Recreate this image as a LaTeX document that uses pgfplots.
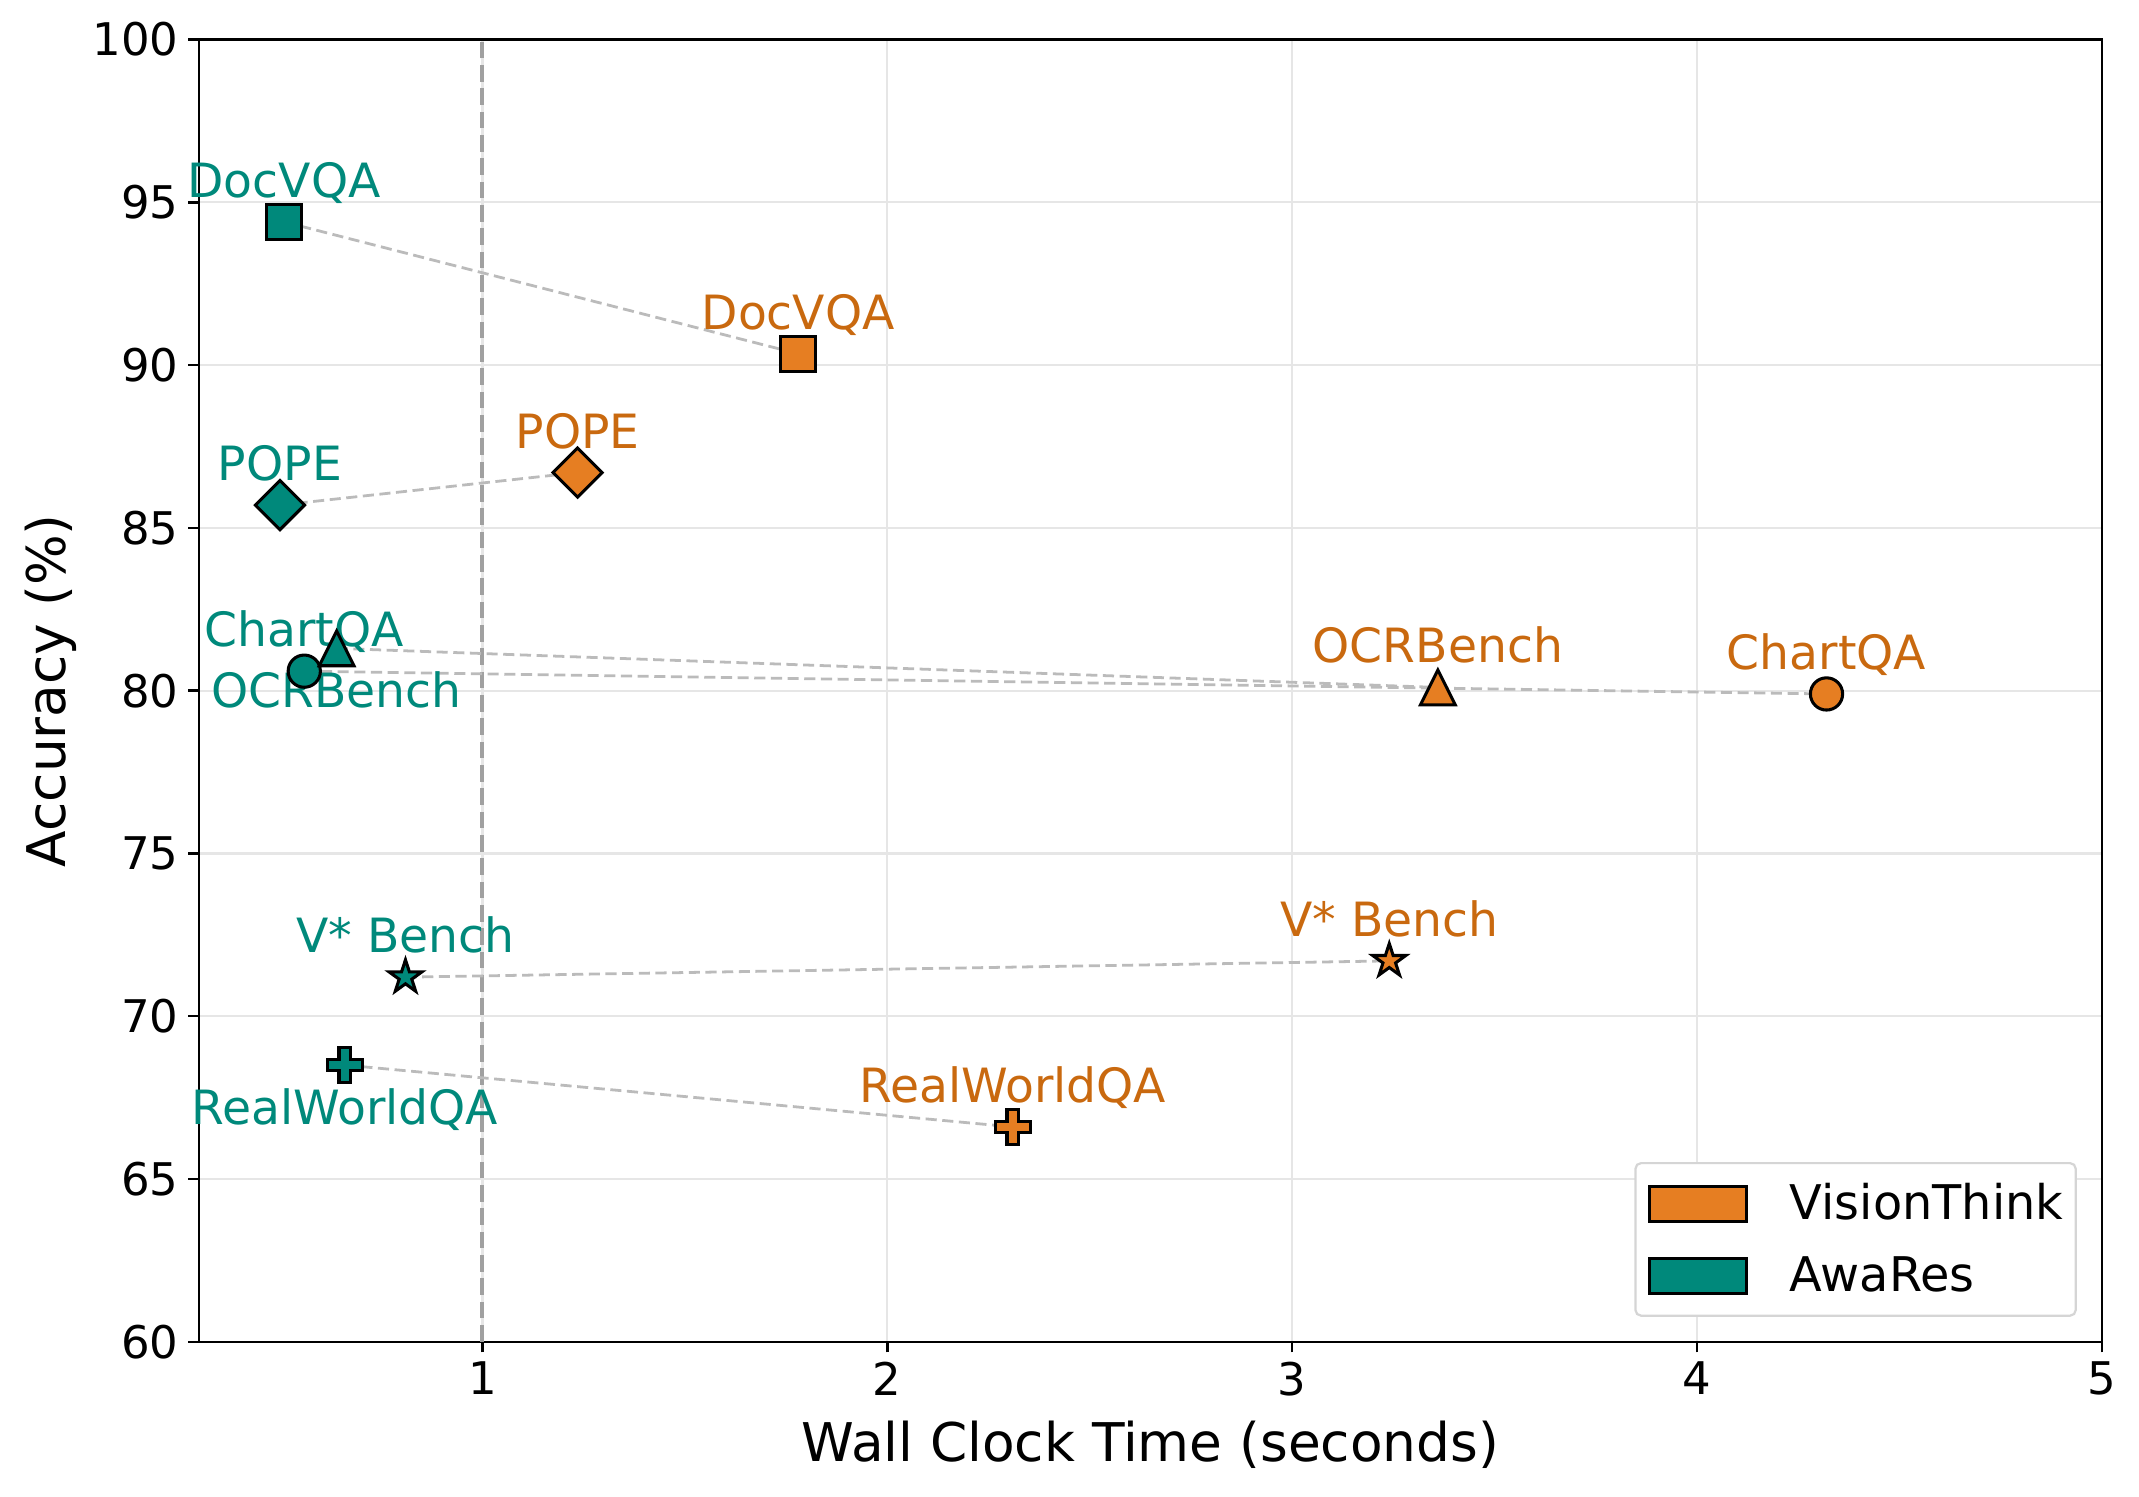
\documentclass[border=0pt]{standalone}
\usepackage{fontspec}
\setmainfont{DejaVu Sans}
\usepackage{pgfplots}
\pgfplotsset{compat=1.18}

\definecolor{vtfill}{HTML}{E67E22}
\definecolor{vttext}{HTML}{C9690F}
\definecolor{arfill}{HTML}{00897B}
\definecolor{linkgray}{HTML}{BBBBBB}
\definecolor{refgray}{HTML}{A0A0A0}
\definecolor{gridgray}{HTML}{E6E6E6}
\definecolor{legendgray}{HTML}{D5D5D5}

% matplotlib-like filled marks: triangle '^', star '*', plus 'P'
\pgfdeclareplotmark{mtri}{%
  \pgfpathmoveto{\pgfpoint{0pt}{\pgfplotmarksize}}%
  \pgfpathlineto{\pgfpoint{-\pgfplotmarksize}{-\pgfplotmarksize}}%
  \pgfpathlineto{\pgfpoint{\pgfplotmarksize}{-\pgfplotmarksize}}%
  \pgfpathclose\pgfusepathqfillstroke}
\pgfdeclareplotmark{mstar}{%
  \pgfpathmoveto{\pgfpointpolar{90}{\pgfplotmarksize}}%
  \pgfpathlineto{\pgfpointpolar{126}{0.382\pgfplotmarksize}}%
  \pgfpathlineto{\pgfpointpolar{162}{\pgfplotmarksize}}%
  \pgfpathlineto{\pgfpointpolar{198}{0.382\pgfplotmarksize}}%
  \pgfpathlineto{\pgfpointpolar{234}{\pgfplotmarksize}}%
  \pgfpathlineto{\pgfpointpolar{270}{0.382\pgfplotmarksize}}%
  \pgfpathlineto{\pgfpointpolar{306}{\pgfplotmarksize}}%
  \pgfpathlineto{\pgfpointpolar{342}{0.382\pgfplotmarksize}}%
  \pgfpathlineto{\pgfpointpolar{18}{\pgfplotmarksize}}%
  \pgfpathlineto{\pgfpointpolar{54}{0.382\pgfplotmarksize}}%
  \pgfpathclose\pgfusepathqfillstroke}
\pgfdeclareplotmark{mplus}{%
  \pgfpathmoveto{\pgfpoint{-0.333\pgfplotmarksize}{-\pgfplotmarksize}}%
  \pgfpathlineto{\pgfpoint{0.333\pgfplotmarksize}{-\pgfplotmarksize}}%
  \pgfpathlineto{\pgfpoint{0.333\pgfplotmarksize}{-0.333\pgfplotmarksize}}%
  \pgfpathlineto{\pgfpoint{\pgfplotmarksize}{-0.333\pgfplotmarksize}}%
  \pgfpathlineto{\pgfpoint{\pgfplotmarksize}{0.333\pgfplotmarksize}}%
  \pgfpathlineto{\pgfpoint{0.333\pgfplotmarksize}{0.333\pgfplotmarksize}}%
  \pgfpathlineto{\pgfpoint{0.333\pgfplotmarksize}{\pgfplotmarksize}}%
  \pgfpathlineto{\pgfpoint{-0.333\pgfplotmarksize}{\pgfplotmarksize}}%
  \pgfpathlineto{\pgfpoint{-0.333\pgfplotmarksize}{0.333\pgfplotmarksize}}%
  \pgfpathlineto{\pgfpoint{-\pgfplotmarksize}{0.333\pgfplotmarksize}}%
  \pgfpathlineto{\pgfpoint{-\pgfplotmarksize}{-0.333\pgfplotmarksize}}%
  \pgfpathlineto{\pgfpoint{-0.333\pgfplotmarksize}{-0.333\pgfplotmarksize}}%
  \pgfpathclose\pgfusepathqfillstroke}

\pgfplotsset{
  vt/.style={only marks, mark size=6.25pt, forget plot,
    mark options={fill=vtfill, draw=black, line width=1.1pt, solid, #1}},
  vt/.default={},
  ar/.style={only marks, mark size=6.25pt, forget plot,
    mark options={fill=arfill, draw=black, line width=1.1pt, solid, #1}},
  ar/.default={},
  link/.style={linkgray, line width=1pt, dash pattern=on 4pt off 2pt, forget plot},
}
\tikzset{lbl/.style={anchor=base, inner sep=0pt, font=\fontsize{17}{20}\selectfont}}

\begin{document}
\begin{tikzpicture}
\begin{axis}[
  scale only axis, width=684.97pt, height=468.76pt,
  xmin=0.3, xmax=5, ymin=60, ymax=100,
  xtick={1,2,3,4,5}, ytick={60,65,...,100},
  tick pos=left, tick align=outside, major tick length=3.8pt,
  tick style={black, line width=0.9pt},
  axis line style={line width=0.9pt},
  grid=major, grid style={gridgray, line width=0.8pt},
  tick label style={font=\fontsize{16.2}{19}\selectfont},
  /pgf/number format/assume math mode=true,
  xlabel={Wall Clock Time (seconds)}, ylabel={Accuracy (\%)},
  label style={font=\fontsize{19.2}{23}\selectfont},
  xlabel style={at={([yshift=-43.2pt]axis description cs:0.5,0)}, anchor=base},
  ylabel style={at={([xshift=-48pt]axis description cs:0,0.5)}, anchor=base},
  clip=false,
  legend cell align=left,
  legend image code/.code={\draw[#1, line width=1.1pt, sharp corners] (0pt,-6.3pt) rectangle (35pt,6.3pt);},
  legend style={at={([xshift=-9pt,yshift=9pt]axis description cs:1,0)}, anchor=south east,
    draw=legendgray, line width=0.8pt, rounded corners=2pt, fill=white,
    font=\fontsize{17.2}{20}\selectfont,
    inner xsep=4.5pt, inner ysep=7.3pt, row sep=11.7pt, column sep=15pt,
    nodes={inner sep=0pt}},
]
% reference line at 1 s
\addplot[refgray, line width=1.5pt, dash pattern=on 6pt off 2.4pt, forget plot] coordinates {(1,60) (1,100)};

% AwaRes -> VisionThink links
\addplot[link] coordinates {(0.51,94.4) (1.78,90.35)};
\addplot[link] coordinates {(0.50,85.7) (1.235,86.7)};
\addplot[link] coordinates {(0.56,80.6) (4.32,79.9)};
\addplot[link] coordinates {(0.64,81.3) (3.36,80.1)};
\addplot[link] coordinates {(0.81,71.2) (3.24,71.7)};
\addplot[link] coordinates {(0.66,68.5) (2.31,66.6)};

% VisionThink
\addplot[vt, mark=square*] coordinates {(1.78,90.35)};
\addplot[vt={rotate=45}, mark=square*] coordinates {(1.235,86.7)};
\addplot[vt, mark=*, mark size=5.8pt] coordinates {(4.32,79.9)};
\addplot[vt, mark=mtri] coordinates {(3.36,80.1)};
\addplot[vt, mark=mstar] coordinates {(3.24,71.7)};
\addplot[vt, mark=mplus] coordinates {(2.31,66.6)};

% AwaRes
\addplot[ar, mark=square*] coordinates {(0.51,94.4)};
\addplot[ar={rotate=45}, mark=square*] coordinates {(0.50,85.7)};
\addplot[ar, mark=*, mark size=5.8pt] coordinates {(0.56,80.6)};
\addplot[ar, mark=mtri] coordinates {(0.64,81.3)};
\addplot[ar, mark=mstar] coordinates {(0.81,71.2)};
\addplot[ar, mark=mplus] coordinates {(0.66,68.5)};

\addlegendimage{fill=vtfill, draw=black}
\addlegendentry{VisionThink}
\addlegendimage{fill=arfill, draw=black}
\addlegendentry{AwaRes}

% labels
\node[lbl, vttext, yshift=8.8pt] at (axis cs:1.78,90.35) {DocVQA};
\node[lbl, vttext, yshift=8.8pt] at (axis cs:1.235,86.7) {POPE};
\node[lbl, vttext, yshift=8.8pt] at (axis cs:4.32,79.9) {ChartQA};
\node[lbl, vttext, yshift=8.8pt] at (axis cs:3.36,80.1) {OCRBench};
\node[lbl, vttext, yshift=8.8pt] at (axis cs:3.24,71.7) {V* Bench};
\node[lbl, vttext, yshift=8.8pt] at (axis cs:2.31,66.6) {RealWorldQA};
\node[lbl, arfill, yshift=8.8pt] at (axis cs:0.51,94.4) {DocVQA};
\node[lbl, arfill, yshift=8.8pt] at (axis cs:0.50,85.7) {POPE};
\node[lbl, arfill, yshift=8.8pt] at (axis cs:0.56,80.6) {ChartQA};
\node[lbl, arfill, yshift=-21.3pt] at (axis cs:0.64,81.3) {OCRBench};
\node[lbl, arfill, yshift=8.8pt] at (axis cs:0.81,71.2) {V* Bench};
\node[lbl, arfill, yshift=-21.3pt] at (axis cs:0.66,68.5) {RealWorldQA};
\end{axis}
\pgfresetboundingbox
\path[use as bounding box] (current axis.south west) ++(-71.64pt,-55.55pt) rectangle ++(770pt,538.56pt);
\end{tikzpicture}
\end{document}
